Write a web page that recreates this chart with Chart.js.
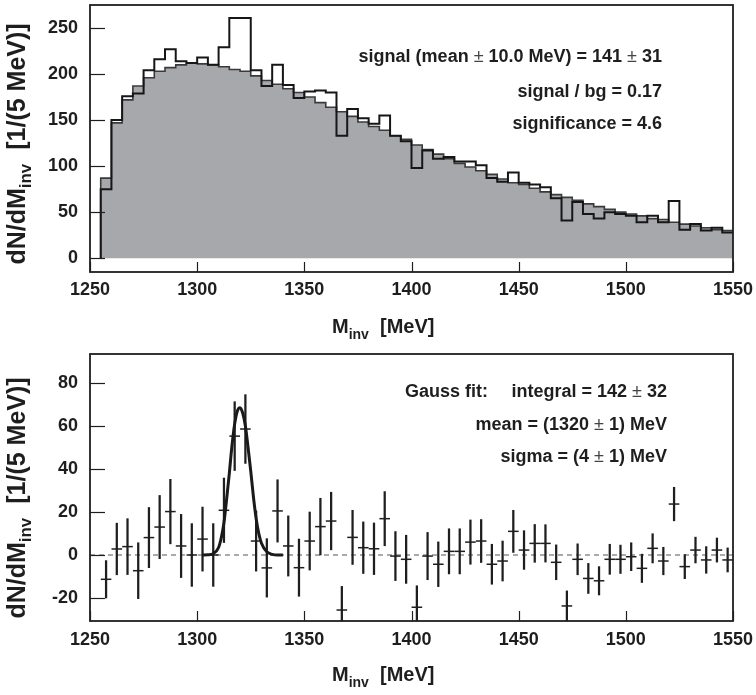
<!DOCTYPE html>
<html>
<head>
<meta charset="utf-8">
<script src="https://cdn.jsdelivr.net/npm/chart.js@4.4.1/dist/chart.umd.min.js"></script>
<style>
  html, body { margin: 0; padding: 0; background: #fff; }
  #wrap { position: relative; width: 756px; height: 695px; }
  .panel { position: absolute; left: 0; width: 756px; }
</style>
</head>
<body>
<div id="wrap">
  <div class="panel" style="top:0;height:345px"><canvas id="topChart" width="756" height="345"></canvas></div>
  <div class="panel" style="top:345px;height:350px"><canvas id="botChart" width="756" height="350"></canvas></div>
</div>
<script>
// lower edges of the 5 MeV bins
const massBins = [1255,1260,1265,1270,1275,1280,1285,1290,1295,1300,1305,1310,1315,1320,1325,1330,1335,1340,1345,1350,
  1355,1360,1365,1370,1375,1380,1385,1390,1395,1400,1405,1410,1415,1420,1425,1430,1435,1440,1445,1450,
  1455,1460,1465,1470,1475,1480,1485,1490,1495,1500,1505,1510,1515,1520,1525,1530,1535,1540,1545];
const massMax = 1550;

// top panel: background (grey) and same-event (open) histograms
const mixedBg = [87,147,172,187,196,203,207,210,212,211,210,208,205,203,198,193,189,184,180,175,
  169,164,159,154,148,143,139,133,129,123,118,113,108,103,99,95,91,86,82,80,
  76,72,69,66,63,59,56,53,50,48,46,43,42,39,37,35,33,31,30];
const signalHist = [75,150,176,179,204,216,227,214,212,218,210,229,261,261,204,187,210,188,174,181,
  182,180,133,162,152,146,155,133,127,98,117,108,110,105,105,101,87,83,93,82,
  80,77,65,41,61,48,43,50,48,46,39,46,39,62,31,37,30,33,28];

// bottom panel: subtracted spectrum with errors
const subValues = [-11.3,2.8,3.9,-7.3,8.1,13,20.2,4.2,0,7.4,0,20.8,55.3,58.6,6.5,-6,20.5,4.2,-5.9,6.5,
  13.2,15.8,-25.6,8.2,3.4,2.9,16.9,-0.5,-2,-24.3,-0.5,-4.3,1.7,1.7,6,6.5,-4.3,-2.8,11,2.3,
  5.4,5.4,-3.4,-23.7,-2,-10.9,-12,-2,-2,-0.8,-6.2,3.1,-2.8,23.7,-5.4,2.3,-2.3,2.3,-2.3];
const subErrors = [8.7,12,13,13,14,14.7,15,14.7,14.6,14.9,14.6,15,16,16,14,13.6,14.5,14,13.3,13.5,
  13.2,13.4,11,12.6,12,12,12.6,11.4,11.2,10,11,10.4,10.5,10.5,10.3,10,9.3,9.3,9.8,9,
  8.8,8.7,8.1,7,7.2,7,6.6,7,6.6,6.5,6.6,6.8,6.4,7.8,5.6,6,6.2,5.6,5.6];

// gauss fit curve
const fitMass = [1302.5,1305,1307.5,1310,1311.25,1312.5,1313.75,1315,1316.25,1317.5,1318.75,1320,
  1321.25,1322.5,1323.75,1325,1326.25,1327.5,1328.75,1330,1332.5,1335,1337.5,1340];
const fitValues = [0,0.1,0.6,3.5,8,15,26,38,51,61,67,68.5,66,60,50,39,27,17,10,5.5,1.5,0.3,0,0];

const FONT = '"Liberation Sans", Arial, Helvetica, sans-serif';
const INK = '#1e1e1e';

function stepPoints(vals) {
  const pts = [{ x: massBins[0], y: 0 }];
  vals.forEach((v, i) => pts.push({ x: massBins[i], y: v }));
  pts.push({ x: massMax, y: vals[vals.length - 1] });
  return pts;
}

// draw a list of text runs [text, font, color, dy]
function drawRuns(ctx, runs, x, y, align) {
  let w = 0;
  runs.forEach(r => { ctx.font = r[1]; w += ctx.measureText(r[0]).width; });
  let cx = align === 'right' ? x - w : align === 'center' ? x - w / 2 : x;
  ctx.textAlign = 'left';
  ctx.textBaseline = 'alphabetic';
  runs.forEach(r => {
    ctx.font = r[1];
    ctx.fillStyle = r[2] || INK;
    ctx.fillText(r[0], cx, y + (r[3] || 0));
    cx += ctx.measureText(r[0]).width;
  });
}

const B18 = 'bold 18px ' + FONT;
const PM = '18px ' + FONT;

function framePlugin(cfg) {
  return {
    id: 'frame',
    afterDraw(chart) {
      const { ctx, chartArea: a, scales: { x, y } } = chart;
      ctx.save();
      ctx.strokeStyle = INK;
      ctx.lineWidth = 1.2;
      y.ticks.forEach(t => {
        const py = Math.round(y.getPixelForValue(t.value)) + 0.5;
        ctx.beginPath(); ctx.moveTo(a.left, py); ctx.lineTo(a.left + 15, py); ctx.stroke();
      });
      x.ticks.forEach(t => {
        const px = Math.round(x.getPixelForValue(t.value)) + 0.5;
        ctx.beginPath(); ctx.moveTo(px, a.bottom); ctx.lineTo(px, a.bottom - 10); ctx.stroke();
      });
      ctx.lineWidth = 1.8;
      ctx.strokeRect(a.left, a.top, a.right - a.left, a.bottom - a.top);

      // x title
      drawRuns(ctx, [['M', 'bold 20px ' + FONT], ['inv', 'bold 14px ' + FONT, INK, 6], ['  [MeV]', 'bold 20px ' + FONT]],
        332, cfg.xTitleY, 'left');
      // y title
      ctx.save();
      ctx.translate(25, cfg.yTitleY);
      ctx.rotate(-Math.PI / 2);
      drawRuns(ctx, [['dN/dM', 'bold 25px ' + FONT], ['inv', 'bold 17px ' + FONT, INK, 6], ['  [1/(5 MeV)]', 'bold 25px ' + FONT]],
        0, 0, 'center');
      ctx.restore();
      cfg.notes(ctx);
      ctx.restore();
    }
  };
}

function noPad(s) {
  s.paddingTop = 0; s.paddingBottom = 0; s.paddingLeft = 0; s.paddingRight = 0;
}

function axes(yMin, yMax, yStep, xHeight, xPad) {
  return {
    x: {
      type: 'linear', min: 1250, max: 1550, offset: false,
      grid: { display: false, drawTicks: false },
      border: { display: false },
      ticks: { stepSize: 50, color: INK, font: { family: FONT, size: 18, weight: 'bold' }, padding: xPad,
        maxRotation: 0, callback: v => String(v) },
      afterFit: s => { s.height = xHeight; noPad(s); }
    },
    y: {
      min: yMin, max: yMax,
      grid: { display: false, drawTicks: false },
      border: { display: false },
      ticks: { stepSize: yStep, includeBounds: false, color: INK, font: { family: FONT, size: 18, weight: 'bold' }, padding: 12,
        callback: v => String(v) },
      afterFit: s => { s.width = 90; noPad(s); }
    }
  };
}

const common = {
  responsive: false,
  animation: false,
  devicePixelRatio: 1,
  plugins: { legend: { display: false }, tooltip: { enabled: false } },
  elements: { point: { radius: 0 } }
};

new Chart(document.getElementById('topChart'), {
  type: 'line',
  data: {
    datasets: [{
      data: stepPoints(mixedBg),
      stepped: true,
      fill: 'origin',
      backgroundColor: '#a7a8ac',
      borderColor: '#3a3a3a',
      borderWidth: 1.6,
      order: 2
    }, {
      data: stepPoints(signalHist),
      stepped: true,
      fill: false,
      borderColor: '#161616',
      borderWidth: 2,
      order: 1
    }]
  },
  options: Object.assign({}, common, {
    layout: { padding: { left: 0, right: 23, top: 5, bottom: 0 } },
    scales: axes(-15, 275, 50, 73, 7)
  }),
  plugins: [framePlugin({
    xTitleY: 333, yTitleY: 144,
    notes(ctx) {
      drawRuns(ctx, [['signal (mean ', B18], ['\u00b1', PM, '#444'], [' 10.0 MeV) = 141 ', B18], ['\u00b1', PM, '#444'], [' 31', B18]], 662, 62, 'right');
      drawRuns(ctx, [['signal / bg = 0.17', B18]], 662, 97, 'right');
      drawRuns(ctx, [['significance = 4.6', B18]], 662, 129, 'right');
    }
  })]
});

new Chart(document.getElementById('botChart'), {
  type: 'bar',
  data: {
    datasets: [{
      type: 'line',
      data: [{ x: 1250, y: 0 }, { x: 1550, y: 0 }],
      borderColor: '#555',
      borderWidth: 1,
      borderDash: [5, 4],
      order: 5
    }, {
      type: 'bar',
      data: massBins.map((m, i) => ({ x: m + 2.5, y: [subValues[i] - subErrors[i], subValues[i] + subErrors[i]] })),
      backgroundColor: '#1e1e1e',
      barThickness: 1.6,
      grouped: false,
      order: 3
    }, {
      type: 'line',
      showLine: false,
      data: massBins.map((m, i) => ({ x: m + 2.5, y: subValues[i] })),
      pointStyle: 'line',
      pointRadius: 5.3,
      borderColor: '#1e1e1e',
      borderWidth: 1.5,
      order: 2
    }, {
      type: 'line',
      data: fitMass.map((m, i) => ({ x: m, y: fitValues[i] })),
      borderColor: '#1a1a1a',
      borderWidth: 3,
      cubicInterpolationMode: 'monotone',
      order: 1
    }]
  },
  options: Object.assign({}, common, {
    layout: { padding: { left: 0, right: 23, top: 9, bottom: 0 } },
    scales: axes(-30.7, 93.5, 20, 74, 8)
  }),
  plugins: [framePlugin({
    xTitleY: 336, yTitleY: 153,
    notes(ctx) {
      drawRuns(ctx, [['Gauss fit:', B18]], 405, 52, 'left');
      drawRuns(ctx, [['integral = 142 ', B18], ['\u00b1', PM, '#444'], [' 32', B18]], 667, 52, 'right');
      drawRuns(ctx, [['mean = (1320 ', B18], ['\u00b1', PM, '#444'], [' 1) MeV', B18]], 667, 85, 'right');
      drawRuns(ctx, [['sigma = (4 ', B18], ['\u00b1', PM, '#444'], [' 1) MeV', B18]], 667, 117, 'right');
    }
  })]
});
</script>
</body>
</html>
